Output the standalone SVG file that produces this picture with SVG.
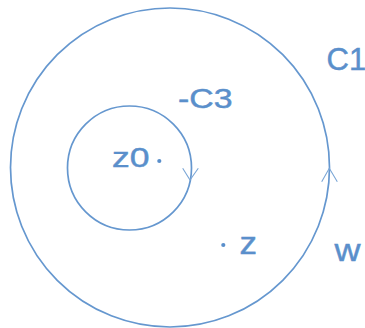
<svg xmlns="http://www.w3.org/2000/svg" width="365" height="328" viewBox="0 0 365 328">
<style>
.c{fill:none;stroke:#6597cf;stroke-width:1.7}
.a{fill:none;stroke:#7aa6d6;stroke-width:1.1}
.t{fill:#5a8fcb;stroke:#5a8fcb;stroke-width:0.45;font-family:"Liberation Sans",Arial,sans-serif}
.d{fill:#5a8fcb}
</style>
<rect width="365" height="328" fill="#ffffff"/>
<g id="C1">
<circle class="c" cx="170" cy="167.5" r="159.5"/>
<text class="t" x="326.5" y="70" font-size="31">C1</text>
</g>
<g id="C3">
<circle class="c" cx="129.5" cy="168" r="62"/>
<text class="t" x="178" y="107.7" font-size="28" textLength="54.5" lengthAdjust="spacingAndGlyphs">-C3</text>
</g>
<g id="z0">
<text class="t" x="112" y="167" font-size="28.5" textLength="37.5" lengthAdjust="spacingAndGlyphs">z0</text>
<circle class="d" cx="159.3" cy="161" r="2.1"/>
</g>
<g id="z">
<circle class="d" cx="223.3" cy="245" r="2.1"/>
<text class="t" x="239.5" y="253.5" font-size="32" textLength="17.5" lengthAdjust="spacingAndGlyphs">z</text>
</g>
<g id="w">
<text class="t" x="334.5" y="261" font-size="32" textLength="26" lengthAdjust="spacingAndGlyphs">w</text>
</g>
<g id="connectors">
<polyline class="a" points="182.7,168.3 190,180 198.3,168.3"/>
<polyline class="a" points="321.7,181.7 329.3,168.3 337.3,181.7"/>
</g>
</svg>
